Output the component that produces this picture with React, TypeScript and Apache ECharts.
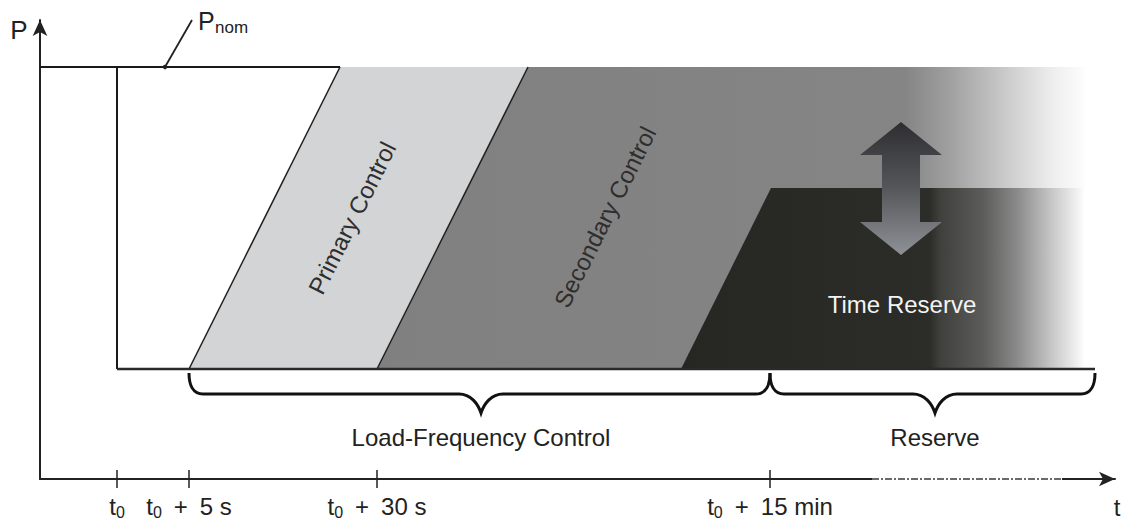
import React, { useEffect, useRef } from "react";
import * as echarts from "echarts";

// ---- Schematic time axis (arbitrary units) ----
const axisTimeMax = 1075;
const axisPowerMax = 459;
const tickTimes = [77, 149, 337, 730];
const tickLabels = ["t0", "t0 + 5 s", "t0 + 30 s", "t0 + 15 min"];

// ---- Power levels (arbitrary units) ----
const pNominal = 412;
const pMinimum = 110;
const pReserve = 291;

// ---- Band edges: time at minimum level, time at upper level ----
const bandNames = ["Primary Control", "Secondary Control", "Time Reserve"];
const edgeStartTimes = [149, 337, 641];
const edgeEndTimes = [300, 488, 731];
const fadeEndTime = 1045;
const baseLineEndTime = 1055;

// ---- Braces ----
const braceLabels = ["Load-Frequency Control", "Reserve"];
const braceStarts = [149, 730];
const braceEnds = [730, 1055];
const braceCenters = [441, 895];

// ---- Reserve double arrow (time, levels: top tip, head base, head base, bottom tip) ----
const arrowTime = 861;
const arrowLevels = [357, 324, 257, 224];

// ---- P_nom leader line ----
const leaderTimes = [125, 152];
const leaderLevels = [412, 459];

// ---- dotted part of time axis ----
const dottedAxisTimes = [832, 1022];

// ---- fade stops (time, colour) ----
const secondaryFadeTimes = [865, 910, 960, 1010, 1045];
const secondaryFadeColors = ["#858585", "#a0a0a0", "#c6c6c6", "#ececec", "#fdfdfd"];
const reserveFadeTimes = [890, 900, 943, 977, 1010, 1038, 1045];
const reserveFadeColors = ["#2c2c28", "#3f3f3c", "#5c5c5a", "#8a8a8a", "#c4c4c4", "#f2f2f2", "#ffffff"];

const FONT = "'Liberation Sans', Arial, sans-serif";

export default function App() {
  const ref = useRef<HTMLDivElement>(null);

  useEffect(() => {
    if (!ref.current) return;
    const chart = echarts.init(ref.current, null, { renderer: "svg" });

    const renderItem = (_params: any, api: any) => {
      const c = (x: number, y: number) => api.coord([x, y]);
      const children: any[] = [];

      const grad = (x0: number, x1: number, base: string, times: number[], colors: string[]) => {
        const stops: any[] = [{ offset: 0, color: base }];
        times.forEach((t, i) => {
          const off = Math.min(1, Math.max(0, (c(t, 0)[0] - x0) / (x1 - x0)));
          stops.push({ offset: off, color: colors[i] });
        });
        return new echarts.graphic.LinearGradient(0, 0, 1, 0, stops);
      };

      // Secondary control (gray, fading)
      const secPts = [
        c(edgeStartTimes[1], pMinimum),
        c(edgeEndTimes[1], pNominal),
        c(fadeEndTime, pNominal),
        c(fadeEndTime, pMinimum),
      ];
      children.push({
        type: "polygon",
        shape: { points: secPts },
        style: { fill: grad(secPts[0][0], secPts[2][0], "#808080", secondaryFadeTimes, secondaryFadeColors) },
      });

      // Primary control (light gray)
      children.push({
        type: "polygon",
        shape: {
          points: [
            c(edgeStartTimes[0], pMinimum),
            c(edgeEndTimes[0], pNominal),
            c(edgeEndTimes[1], pNominal),
            c(edgeStartTimes[1], pMinimum),
          ],
        },
        style: { fill: "#d3d4d6" },
      });

      // Time reserve (dark, fading)
      const resPts = [
        c(edgeStartTimes[2], pMinimum),
        c(edgeEndTimes[2], pReserve),
        c(fadeEndTime, pReserve),
        c(fadeEndTime, pMinimum),
      ];
      children.push({
        type: "polygon",
        shape: { points: resPts },
        style: { fill: grad(resPts[0][0], resPts[2][0], "#262622", reserveFadeTimes, reserveFadeColors) },
      });

      const line = (a: number[], b: number[], stroke: string, w: number, extra: any = {}) => ({
        type: "line",
        shape: { x1: a[0], y1: a[1], x2: b[0], y2: b[1] },
        style: { stroke, lineWidth: w, ...extra },
      });

      // outline lines
      children.push(line(c(0, pNominal), c(edgeEndTimes[0], pNominal), "#1a1a1a", 2));
      children.push(line(c(tickTimes[0], pNominal), c(tickTimes[0], pMinimum), "#1a1a1a", 2));
      children.push(line(c(edgeStartTimes[0], pMinimum), c(edgeEndTimes[0], pNominal), "#222", 1.5));
      children.push(line(c(edgeStartTimes[1], pMinimum), c(edgeEndTimes[1], pNominal), "#222", 1.5));
      children.push(line(c(tickTimes[0], pMinimum), c(baseLineEndTime, pMinimum), "#2a2a2a", 2.5));

      // axis ticks crossing the axis
      tickTimes.forEach((t) => {
        const p = c(t, 0);
        children.push(line([p[0], p[1] - 9], [p[0], p[1] + 9], "#222", 1.5));
      });

      // dotted section of time axis
      const d0 = c(dottedAxisTimes[0], 0);
      const d1 = c(dottedAxisTimes[1], 0);
      children.push(line(d0, d1, "#ffffff", 4));
      children.push(line(d0, d1, "#6a6a6a", 2, { lineDash: [7, 2, 2, 2] }));

      // leader line to P_nom
      const l0 = c(leaderTimes[0], leaderLevels[0]);
      const l1 = c(leaderTimes[1], leaderLevels[1]);
      children.push(line(l0, l1, "#222", 1.8));
      children.push({ type: "circle", shape: { cx: l0[0], cy: l0[1], r: 2.2 }, style: { fill: "#222" } });

      // double arrow
      const ax = c(arrowTime, 0)[0];
      const ys = arrowLevels.map((v) => c(arrowTime, v)[1]);
      const hw = 41;
      const sw = 19;
      children.push({
        type: "polygon",
        shape: {
          points: [
            [ax, ys[0]], [ax + hw, ys[1]], [ax + sw, ys[1]], [ax + sw, ys[2]], [ax + hw, ys[2]],
            [ax, ys[3]], [ax - hw, ys[2]], [ax - sw, ys[2]], [ax - sw, ys[1]], [ax - hw, ys[1]],
          ],
        },
        style: {
          fill: new echarts.graphic.LinearGradient(0, 0, 0, 1, [
            { offset: 0, color: "#2e2e31" },
            { offset: 0.5, color: "#56575b" },
            { offset: 1, color: "#8e9196" },
          ]),
        },
      });

      // braces
      braceStarts.forEach((xs, i) => {
        const a = c(xs, 106);
        const b = c(braceEnds[i], 106);
        const m = c(braceCenters[i], 66);
        const yH = c(xs, 85)[1];
        const yTop = a[1];
        const xa = a[0], xb = b[0], xc = m[0], yTip = m[1];
        const d =
          `M ${xa} ${yTop} C ${xa} ${yH - 9} ${xa + 4} ${yH} ${xa + 14} ${yH} ` +
          `L ${xc - 22} ${yH} C ${xc - 10} ${yH} ${xc - 3} ${yTip - 9} ${xc} ${yTip} ` +
          `C ${xc + 3} ${yTip - 9} ${xc + 10} ${yH} ${xc + 22} ${yH} ` +
          `L ${xb - 14} ${yH} C ${xb - 4} ${yH} ${xb} ${yH - 9} ${xb} ${yTop}`;
        children.push({
          type: "path",
          shape: { pathData: d },
          style: { fill: "none", stroke: "#111", lineWidth: 3 },
        });
        const tp = c(braceCenters[i], 42);
        children.push({
          type: "text",
          x: tp[0],
          y: tp[1],
          style: {
            text: braceLabels[i],
            fill: "#222",
            fontSize: 24,
            fontFamily: FONT,
            align: "center",
            verticalAlign: "middle",
          },
        });
      });

      // band labels
      const angle = Math.atan2(
        c(edgeStartTimes[0], pMinimum)[1] - c(edgeEndTimes[0], pNominal)[1],
        c(edgeEndTimes[0], pNominal)[0] - c(edgeStartTimes[0], pMinimum)[0]
      );
      const pl = c(312, 261);
      children.push({
        type: "text",
        x: pl[0],
        y: pl[1],
        rotation: angle,
        style: { text: bandNames[0], fill: "#2e2e2e", fontSize: 24, fontFamily: FONT, align: "center", verticalAlign: "middle" },
      });
      const sl = c(565, 262);
      children.push({
        type: "text",
        x: sl[0],
        y: sl[1],
        rotation: angle,
        style: { text: bandNames[1], fill: "#2e2e2e", fontSize: 24, fontFamily: FONT, align: "center", verticalAlign: "middle" },
      });
      const tl = c(862, 175);
      children.push({
        type: "text",
        x: tl[0],
        y: tl[1],
        style: { text: bandNames[2], fill: "#f4f4f4", fontSize: 24, fontFamily: FONT, align: "center", verticalAlign: "middle" },
      });

      return { type: "group", children };
    };

    const option: any = {
      animation: false,
      backgroundColor: "#ffffff",
      grid: { left: 40, right: 10, top: 20, bottom: 41 },
      xAxis: {
        type: "value",
        min: 0,
        max: axisTimeMax,
        splitLine: { show: false },
        axisTick: { show: false },
        axisLine: {
          show: true,
          symbol: ["none", "arrow"],
          symbolSize: [11, 16],
          lineStyle: { color: "#222", width: 2 },
        },
        axisLabel: {
          customValues: tickTimes,
          margin: 13,
          color: "#222",
          formatter: (v: number) => {
            const i = tickTimes.indexOf(v);
            if (i < 0) return "";
            const s = tickLabels[i];
            const rest = s.slice(2).replace(" + ", "\u2002+\u2002");
            return rest ? `{m|t}{s|0}{m|${rest}}` : `{m|t}{s|0}`;
          },
          rich: {
            m: { fontSize: 24, lineHeight: 28, fontFamily: FONT, color: "#222" },
            s: { fontSize: 16, lineHeight: 18, verticalAlign: "bottom", fontFamily: FONT, color: "#222" },
          },
        },
      },
      yAxis: {
        type: "value",
        min: 0,
        max: axisPowerMax,
        splitLine: { show: false },
        axisTick: { show: false },
        axisLabel: { show: false },
        axisLine: {
          show: true,
          symbol: ["none", "arrow"],
          symbolSize: [11, 16],
          lineStyle: { color: "#222", width: 2 },
        },
      },
      graphic: [
        { type: "text", x: 19, y: 30, style: { text: "P", fontSize: 26, fontFamily: FONT, fill: "#222", align: "center", verticalAlign: "middle" } },
        { type: "text", x: 198, y: 21, style: { text: "P", fontSize: 25, fontFamily: FONT, fill: "#222", align: "left", verticalAlign: "middle" } },
        { type: "text", x: 215, y: 27, style: { text: "nom", fontSize: 17, fontFamily: FONT, fill: "#222", align: "left", verticalAlign: "middle" } },
        { type: "text", x: 1117, y: 507, style: { text: "t", fontSize: 24, fontFamily: FONT, fill: "#222", align: "center", verticalAlign: "middle" } },
      ],
      series: [
        {
          type: "custom",
          coordinateSystem: "cartesian2d",
          clip: false,
          silent: true,
          renderItem,
          data: [[0, 0]],
          z: 3,
        },
      ],
    };

    chart.setOption(option);
    return () => chart.dispose();
  }, []);

  return (
    <div
      ref={ref}
      style={{ position: "fixed", left: 0, top: 0, width: 1125, height: 520, background: "#fff" }}
    />
  );
}
